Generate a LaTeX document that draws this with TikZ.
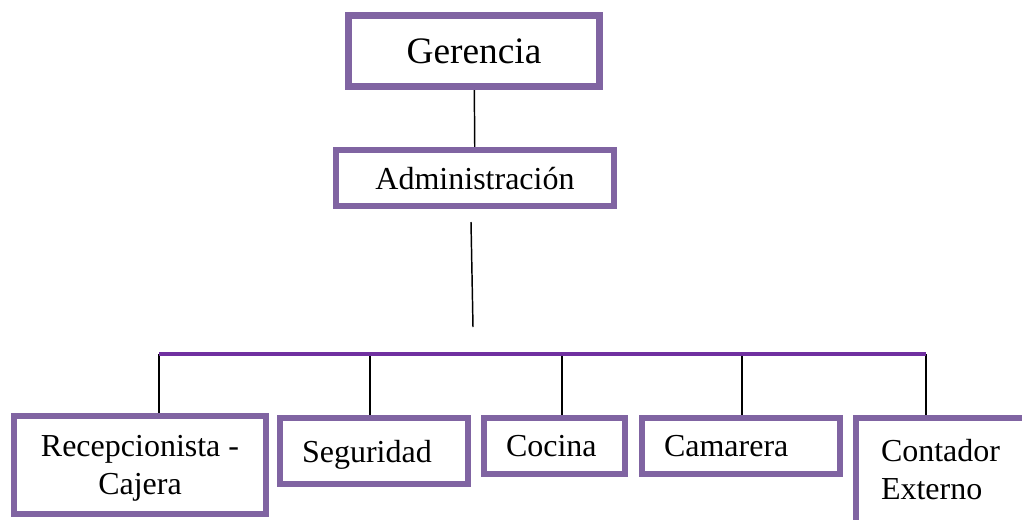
\documentclass[tikz,border=0pt]{standalone}
\usepackage{fontspec}
\setmainfont{Liberation Serif}
\usetikzlibrary{backgrounds}
\definecolor{cajapurpura}{HTML}{8064A2}
\definecolor{lineapurpura}{HTML}{7030A0}

\begin{document}
\begin{tikzpicture}[x=0.75pt, y=-0.75pt,
        caja/.style={draw=cajapurpura, line width=4.5pt, inner sep=0pt, text depth=0pt, font=\fontsize{24}{28}\selectfont},
        cajaizq/.style={caja, align=left, inner xsep=16.5pt, text width=#1},
        enlace/.style={line width=1.1pt}]
        \useasboundingbox (0,0) rectangle (1022,519);
        \clip (0,0) rectangle (1022,519);
        \node[caja, line width=5.25pt, minimum width=188.25pt, minimum height=53.25pt, font=\fontsize{28}{32}\selectfont] (ger) at (474,51) {Gerencia};
        \node[caja, minimum width=208.5pt, minimum height=42pt] (adm) at (475,178) {Administración};
        \node[caja, align=center, minimum width=189pt, minimum height=73.5pt] (rec) at (140,465) {Recepcionista -\\Cajera};
        \node[cajaizq=108pt, minimum height=49.5pt] (seg) at (374,451) {Seguridad};
        \node[cajaizq=72.75pt, minimum height=42pt] (coc) at (554.5,446) {Cocina};
        \node[cajaizq=115.5pt, minimum height=42pt] (cam) at (741,446) {Camarera};
        \node[cajaizq=150pt, draw=none, anchor=north west, inner ysep=14pt] (cont) at (856,418) {Contador\\Externo};
        \coordinate (contbajo) at (856,560);
        \coordinate (contder) at (1060,418);
        \draw[cajapurpura, line width=4.5pt] (contbajo) -- (cont.north west) -- (contder);
        \coordinate (s1) at (471,222);
        \coordinate (s2) at (473,327);
        \coordinate (b1) at (159,354);
        \coordinate (b2) at (370,354);
        \coordinate (b3) at (562,354);
        \coordinate (b4) at (742,354);
        \coordinate (b5) at (926,354);
        \begin{scope}[on background layer]
        \draw[enlace] (ger) -- (adm);
        \draw[enlace] (s1) -- (s2);
        \draw[enlace] (b1) -- (b1 |- rec.north);
        \draw[enlace] (b2) -- (b2 |- seg.north);
        \draw[enlace] (b3) -- (b3 |- coc.north);
        \draw[enlace] (b4) -- (b4 |- cam.north);
        \draw[enlace] (b5) -- (b5 |- cont.north west);
        \draw[lineapurpura, line width=3pt] (b1) -- (b5);
        \end{scope}
\end{tikzpicture}
\end{document}
